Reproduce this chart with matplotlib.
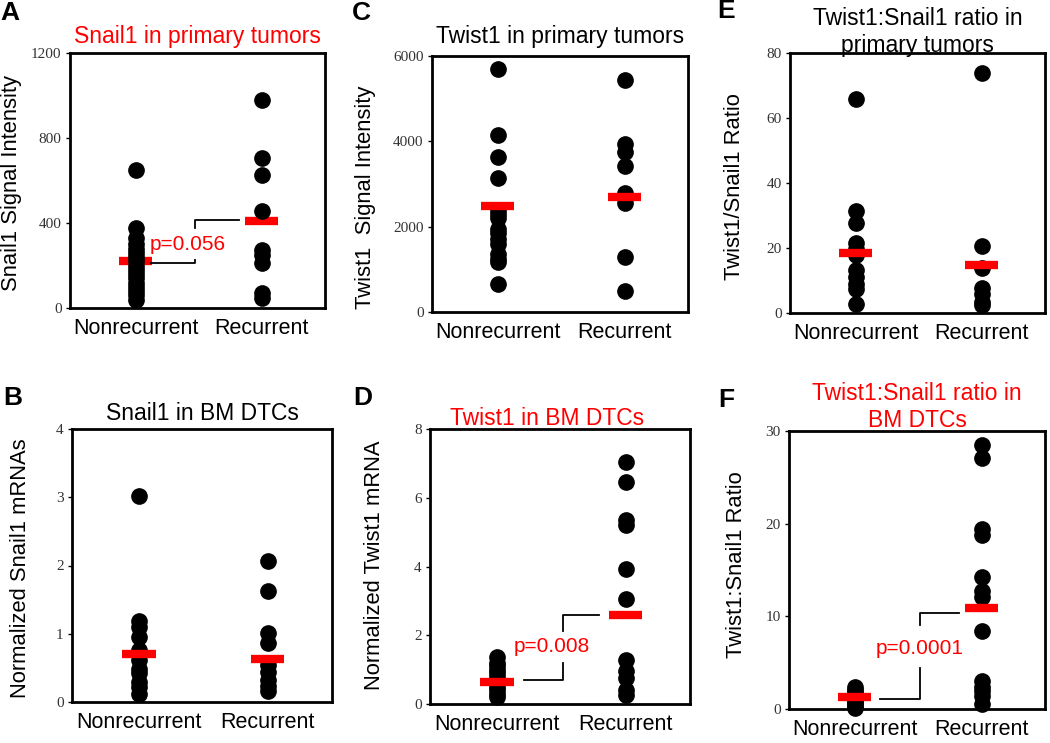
import matplotlib
matplotlib.use("Agg")
import matplotlib.pyplot as plt

# ---------------- data ----------------
categories = ["Nonrecurrent", "Recurrent"]

A_nonrec = [648, 375, 330, 300, 280, 260, 240, 220, 200, 180, 160, 140, 120, 100, 80, 60, 40]
A_rec = [980, 706, 627, 455, 274, 251, 212, 71, 45]
A_means = [220, 410]
A_ticks = [0, 400, 800, 1200]

C_nonrec = [5690, 4150, 3640, 3150, 2400, 2300, 2200, 1950, 1850, 1700, 1600, 1350, 1250, 1180, 650]
C_rec = [5440, 3940, 3740, 3420, 2790, 2700, 2560, 1290, 490]
C_means = [2480, 2700]
C_ticks = [0, 2000, 4000, 6000]

E_nonrec = [65.9, 31.5, 27.6, 21.4, 19.8, 17.8, 13.2, 11.1, 9.0, 7.5, 2.9]
E_rec = [74.0, 20.6, 13.7, 7.8, 6.0, 3.4, 2.4]
E_means = [18.6, 14.7]
E_ticks = [0, 20, 40, 60, 80]

B_nonrec = [3.02, 1.19, 1.10, 0.95, 0.76, 0.61, 0.49, 0.42, 0.29, 0.22, 0.12]
B_rec = [2.07, 1.62, 1.01, 0.87, 0.54, 0.44, 0.32, 0.24, 0.16]
B_means = [0.70, 0.63]
B_ticks = [0, 1, 2, 3, 4]

D_nonrec = [1.37, 1.2, 1.1, 1.0, 0.9, 0.8, 0.7, 0.6, 0.5, 0.4, 0.3, 0.2]
D_rec = [7.05, 6.46, 5.35, 5.20, 3.92, 3.06, 1.29, 0.95, 0.76, 0.42, 0.27]
D_means = [0.64, 2.58]
D_ticks = [0, 2, 4, 6, 8]

F_nonrec = [2.4, 2.1, 1.8, 1.5, 1.3, 1.0, 0.8, 0.5, 0.3, 0.1]
F_rec = [28.5, 27.1, 19.4, 18.8, 14.2, 12.7, 12.1, 8.4, 3.0, 2.4, 1.9, 1.4, 0.5]
F_means = [1.26, 10.9]
F_ticks = [0, 10, 20, 30]

p_A = "p=0.056"
p_D = "p=0.008"
p_F = "p=0.0001"

# ---------------- figure ----------------
W, H = 1050, 743
fig = plt.figure(figsize=(W / 100, H / 100), dpi=100)
SANS = ["Liberation Sans", "DejaVu Sans"]
SERIF = ["Liberation Serif", "DejaVu Serif"]
RED = "#ff0000"


def px_axes(left, top, right, bottom):
    return fig.add_axes([left / W, 1 - bottom / H, (right - left) / W, (bottom - top) / H])


def panel(box, nonrec, rec, means, ticks, ylabel, ylab_xy, letter, letter_xy,
          titles, title_color, title_x=0.5, bars_on_top=True):
    ax = px_axes(*box)
    x_pos = [0, 1]
    for xp, vals in zip(x_pos, [nonrec, rec]):
        ax.plot([xp] * len(vals), vals, "o", color="black", ms=11,
                mec="black", clip_on=False, zorder=3)
    for xp, m in zip(x_pos, means):
        ax.plot([xp - 0.13, xp + 0.13], [m, m], color=RED, lw=6,
                solid_capstyle="butt", zorder=4 if bars_on_top else 2)
    ax.set_xlim(-0.52, 1.5)
    ax.set_ylim(ticks[0], ticks[-1])
    ax.set_yticks(ticks)
    ax.set_yticklabels([str(t) for t in ticks], family=SERIF, fontsize=11,
                       color="#333333")
    ax.set_xticks(x_pos)
    ax.set_xticklabels(categories, family=SANS, fontsize=15.5)
    ax.tick_params(axis="x", length=0, pad=7)
    ax.tick_params(axis="y", length=3, width=1, direction="out", pad=3)
    for s in ax.spines.values():
        s.set_linewidth(2)
    # y label
    fig.text(ylab_xy[0] / W, 1 - ylab_xy[1] / H, ylabel, rotation=90,
             ha="center", va="center", family=SANS, fontsize=15.8)
    # panel letter
    fig.text(letter_xy[0] / W, 1 - letter_xy[1] / H, letter, ha="left",
             va="baseline", family=SANS, fontsize=19, fontweight="bold")
    # titles (list of (text, y_axes))
    for t, ty in titles:
        ax.text(title_x, ty, t, transform=ax.transAxes, ha="center",
                va="baseline", family=SANS, fontsize=16.5, color=title_color)
    return ax


def bracket(ax, x0, xm, x1, y_low, y_low_top, y_up_bot, y_up, ptxt, tx, ty):
    ax.plot([x0, xm, xm], [y_low, y_low, y_low_top], color="black", lw=1.3, zorder=2)
    ax.plot([xm, xm, x1], [y_up_bot, y_up, y_up], color="black", lw=1.3, zorder=2)
    ax.text(tx, ty, ptxt, ha="center", va="center", color=RED, family=SANS,
            fontsize=15)


axA = panel((70, 53, 325, 308), A_nonrec, A_rec, A_means, A_ticks,
            "Snail1 Signal Intensity", (12, 183), "A", (0, 20),
            [("Snail1 in primary tumors", 1.04)], RED, bars_on_top=False)
bracket(axA, 0.12, 0.47, 0.82, 212, 227, 376, 416, p_A, 0.41, 298)

axC = panel((432, 56, 688, 312), C_nonrec, C_rec, C_means, C_ticks,
            "Twist1  Signal Intensity", (366, 197), "C", (352, 20),
            [("Twist1 in primary tumors", 1.05)], "black")

axE = panel((790, 53, 1045, 313), E_nonrec, E_rec, E_means, E_ticks,
            "Twist1/Snail1 Ratio", (735, 187), "E", (717, 18),
            [("Twist1:Snail1 ratio in", 1.108), ("primary tumors", 1.003)], "black")

axB = panel((72, 429, 332, 702), B_nonrec, B_rec, B_means, B_ticks,
            "Normalized Snail1 mRNAs", (21, 568), "B", (3, 405),
            [("Snail1 in BM DTCs", 1.033)], "black")

axD = panel((430, 429, 690, 704), D_nonrec, D_rec, D_means, D_ticks,
            "Normalized Twist1 mRNA", (374, 565), "D", (353, 405),
            [("Twist1 in BM DTCs", 1.015)], RED, title_x=0.45)
bracket(axD, 0.21, 0.51, 0.79, 0.71, 1.20, 2.12, 2.58, p_D, 0.43, 1.68)

axF = panel((789, 431, 1045, 709), F_nonrec, F_rec, F_means, F_ticks,
            "Twist1:Snail1 Ratio", (736, 565), "F", (718, 407),
            [("Twist1:Snail1 ratio in", 1.11), ("BM DTCs", 1.014)], RED)
bracket(axF, 0.20, 0.51, 0.82, 1.11, 4.41, 9.1, 10.4, p_F, 0.51, 6.5)

fig.savefig("out.png", dpi=100)
